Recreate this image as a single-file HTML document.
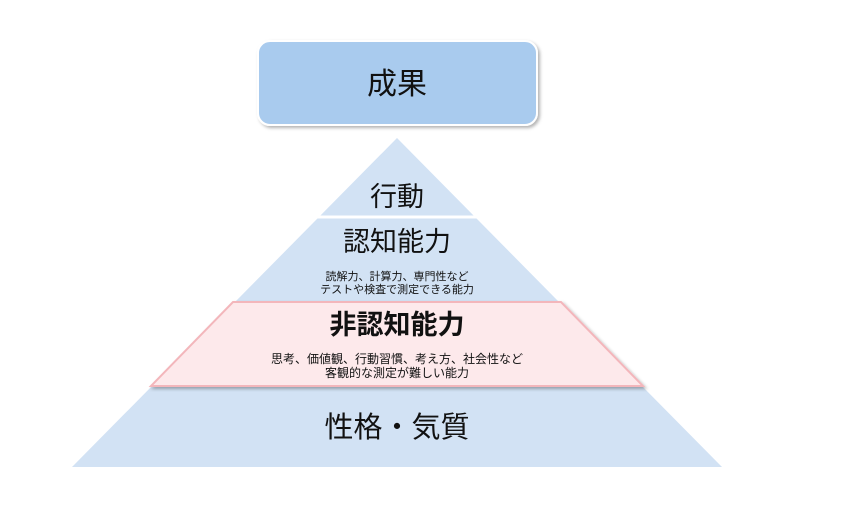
<!DOCTYPE html>
<html><head><meta charset="utf-8"><style>
body{margin:0;background:#fff;width:841px;height:515px;overflow:hidden}
svg text{font-family:"Liberation Sans","Noto Sans CJK JP",sans-serif;fill:#111;text-anchor:middle}
</style></head><body>
<svg width="841" height="515" viewBox="0 0 841 515">
<defs>
<filter id="sh" x="-10%" y="-10%" width="120%" height="130%"><feDropShadow dx="2" dy="2" stdDeviation="1.5" flood-color="#000" flood-opacity="0.3"/></filter>
</defs>
<rect x="258" y="41" width="279" height="84" rx="12" fill="#a9cbee" stroke="#fff" stroke-width="2" filter="url(#sh)"/>
<text x="397" y="94" font-size="30">成果</text>
<polygon points="397,138 722,467 72,467" fill="#d2e2f4"/>
<line x1="300" y1="217" x2="500" y2="217" stroke="#fff" stroke-width="3"/>
<polygon points="233,302 561,302 643,386 151,386" fill="#fde9eb" stroke="#f3b6bb" stroke-width="2" filter="url(#sh)"/>
<text x="397" y="206" font-size="27">行動</text>
<text x="397" y="251" font-size="27">認知能力</text>
<text x="397" y="280" font-size="11">読解力、計算力、専門性など</text>
<text x="397" y="293" font-size="11">テストや検査で測定できる能力</text>
<text x="397" y="334" font-size="27" font-weight="bold">非認知能力</text>
<text x="397" y="363" font-size="12">思考、価値観、行動習慣、考え方、社会性など</text>
<text x="397" y="377" font-size="12">客観的な測定が難しい能力</text>
<text x="397" y="437" font-size="29">性格・気質</text>
</svg>
</body></html>
